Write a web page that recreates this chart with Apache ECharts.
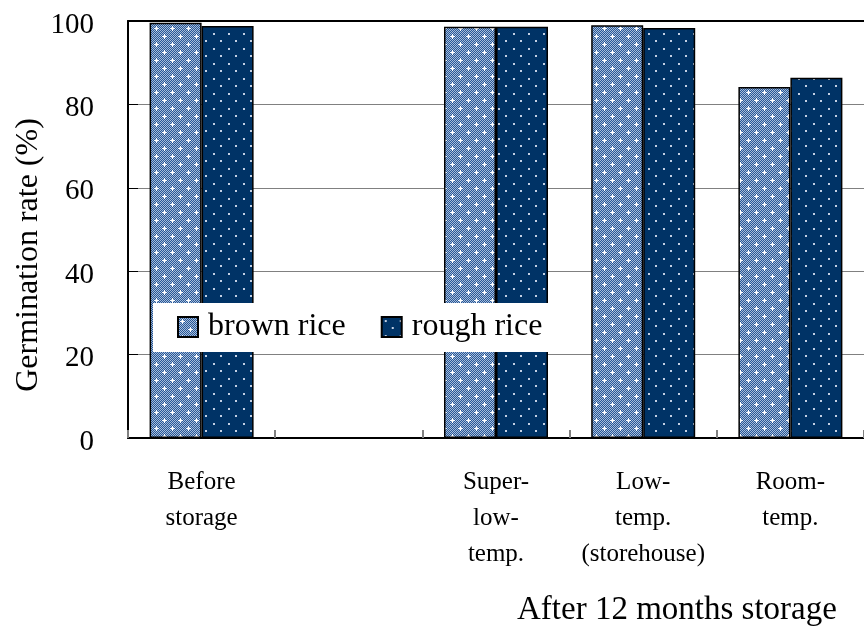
<!DOCTYPE html>
<html>
<head>
<meta charset="utf-8">
<script src="https://cdn.jsdelivr.net/npm/echarts@6/dist/echarts.min.js"></script>
<style>
html,body{margin:0;padding:0;background:#fff;}
#chart{width:864px;height:629px;}
</style>
</head>
<body>
<div id="chart"></div>
<script>
var categories = ['Before\nstorage', '', 'Super-\nlow-\ntemp.', 'Low-\ntemp.\n(storehouse)', 'Room-\ntemp.'];
var brownRice = [99.6, null, 98.6, 99.0, 84.2];
var roughRice = [98.8, null, 98.6, 98.3, 86.4];
var yTicks = [0, 20, 40, 60, 80, 100];
var seriesNames = ['brown rice', 'rough rice'];
var yTitle = 'Germination rate (%)';
var xTitle = 'After 12 months storage';

function makeBrownPattern() {
  var c = document.createElement('canvas');
  c.width = 16; c.height = 16;
  var g = c.getContext('2d');
  for (var y = 0; y < 16; y++) {
    for (var x = 0; x < 16; x++) {
      g.fillStyle = ((x + y) % 2) ? '#285896' : '#a6bcdb';
      g.fillRect(x, y, 1, 1);
    }
  }
  g.fillStyle = '#ffffff';
  [[4, 4], [12, 12]].forEach(function (p) {
    g.fillRect(p[0] - 2, p[1], 5, 1);
    g.fillRect(p[0], p[1] - 2, 1, 5);
  });
  return c;
}
function makeRoughPattern() {
  var c = document.createElement('canvas');
  c.width = 15; c.height = 15;
  var g = c.getContext('2d');
  g.fillStyle = '#003366';
  g.fillRect(0, 0, 15, 15);
  g.fillStyle = '#c3d0e4';
  [[3, 3], [10, 10]].forEach(function (p) {
    g.fillRect(p[0], p[1], 2, 2);
  });
  return c;
}

var chart = echarts.init(document.getElementById('chart'), null, {renderer: 'canvas'});
var font = '"Liberation Serif", "Times New Roman", serif';
var option = {
  backgroundColor: '#ffffff',
  animation: false,
  textStyle: {fontFamily: font, color: '#000'},
  grid: {left: 128, top: 21, right: -11, bottom: 191, containLabel: false},
  legend: {
    data: seriesNames,
    left: 153, top: 303,
    backgroundColor: '#ffffff',
    padding: [8, 19, 9, 24],
    itemWidth: 20, itemHeight: 20,
    itemGap: 35,
    icon: 'rect',
    textStyle: {fontFamily: font, fontSize: 32, color: '#000', padding: [0, 0, 0, 5]}
  },
  title: {
    text: xTitle,
    left: 512, top: 589,
    textStyle: {fontFamily: font, fontSize: 33, fontWeight: 'normal', color: '#000'}
  },
  graphic: [{
    type: 'text',
    x: 29, y: 255,
    rotation: Math.PI / 2,
    style: {text: yTitle, font: '32px ' + font, fill: '#000', align: 'center', verticalAlign: 'middle'}
  }],
  xAxis: [{
    type: 'category',
    data: categories,
    axisLine: {lineStyle: {color: '#000', width: 2}},
    axisTick: {show: true, inside: true, length: 8, alignWithLabel: false, lineStyle: {color: '#808080', width: 2}},
    axisLabel: {interval: 0, fontFamily: font, fontSize: 25, lineHeight: 36, color: '#000', margin: 26},
    splitLine: {show: false}
  }, {
    type: 'category',
    position: 'top',
    data: categories,
    axisLine: {show: true, lineStyle: {color: '#000', width: 2}},
    axisTick: {show: false},
    axisLabel: {show: false}
  }],
  yAxis: {
    type: 'value',
    min: yTicks[0], max: yTicks[yTicks.length - 1], interval: 20,
    axisLine: {show: true, lineStyle: {color: '#000', width: 2}},
    axisTick: {show: true, inside: true, length: 10, lineStyle: {color: '#000', width: 1}},
    axisLabel: {
      margin: 34,
      formatter: '{a|{value}}',
      rich: {a: {fontFamily: font, fontSize: 29, color: '#000', padding: [8, 0, 0, 0]}}
    },
    splitLine: {show: true, lineStyle: {color: '#808080', width: 1}}
  },
  series: [{
    name: seriesNames[0],
    type: 'bar',
    data: brownRice,
    barWidth: 52,
    barGap: '0%',
    itemStyle: {color: {image: makeBrownPattern(), repeat: 'repeat'}, borderColor: '#000', borderWidth: 1.5}
  }, {
    name: seriesNames[1],
    type: 'bar',
    data: roughRice,
    barWidth: 52,
    barGap: '0%',
    itemStyle: {color: {image: makeRoughPattern(), repeat: 'repeat'}, borderColor: '#000', borderWidth: 1.5}
  }]
};
chart.setOption(option);
</script>
</body>
</html>
